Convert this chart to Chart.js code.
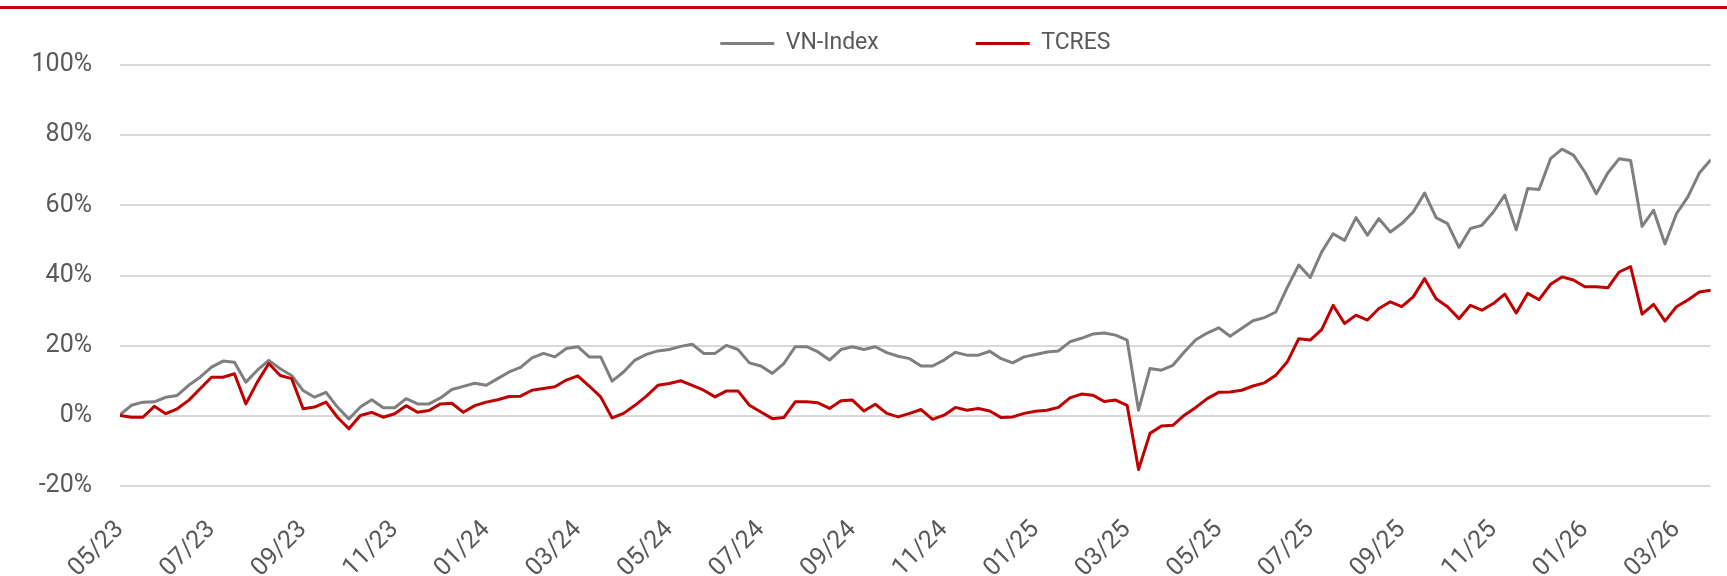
<!DOCTYPE html>
<html>
<head>
<meta charset="utf-8">
<title>VN-Index vs TCRES</title>
<script src="https://cdn.jsdelivr.net/npm/chart.js@4.4.1/dist/chart.umd.min.js"></script>
<style>
  html, body { margin: 0; padding: 0; background: #fff; }
  #wrap { position: relative; width: 1727px; height: 576px; overflow: hidden; }
  #chart { position: absolute; left: 0; top: 0; }
  #topRule { position: absolute; left: 0; top: 6px; width: 100%; height: 3px; background: #c00000; }
</style>
</head>
<body>
<div id="wrap">
  <canvas id="chart" width="1727" height="576"></canvas>
  <div id="topRule"></div>
</div>
<script>
// x-axis labels, one every two months starting 05/23
const tickLabels = ['05/23', '07/23', '09/23', '11/23', '01/24', '03/24', '05/24', '07/24', '09/24',
  '11/24', '01/25', '03/25', '05/25', '07/25', '09/25', '11/25', '01/26', '03/26'];

// one sample roughly every week (0.25 month), cumulative return in %
const sampleStep = 0.25;

const vnIndex = [
  0.3, 3.0, 3.9, 4.0, 5.3, 5.8, 8.7, 11.0, 13.9, 15.6,
  15.3, 9.6, 13.0, 15.8, 13.4, 11.5, 7.2, 5.3, 6.7, 2.5,
  -0.9, 2.5, 4.6, 2.3, 2.3, 4.9, 3.4, 3.4, 5.1, 7.5,
  8.4, 9.3, 8.7, 10.6, 12.5, 13.8, 16.5, 17.8, 16.8, 19.2,
  19.7, 16.8, 16.8, 9.9, 12.5, 15.9, 17.5, 18.5, 18.9, 19.8,
  20.4, 17.8, 17.8, 20.1, 18.9, 15.1, 14.2, 12.1, 14.9, 19.7,
  19.7, 18.2, 15.9, 18.9, 19.7, 18.9, 19.7, 18.0, 17.0, 16.3,
  14.2, 14.2, 15.9, 18.1, 17.3, 17.3, 18.4, 16.3, 15.1, 16.8,
  17.5, 18.2, 18.5, 21.1, 22.1, 23.3, 23.6, 23.0, 21.6, 1.6,
  13.5, 13.0, 14.4, 18.2, 21.7, 23.6, 25.1, 22.7, 24.9, 27.1,
  28.0, 29.6, 36.6, 43.0, 39.4, 46.7, 51.9, 50.0, 56.5, 51.5,
  56.2, 52.4, 54.8, 58.1, 63.5, 56.5, 54.8, 48.0, 53.4, 54.3,
  58.1, 62.9, 53.0, 64.8, 64.5, 73.3, 76.0, 74.3, 69.5, 63.3,
  69.2, 73.3, 72.8, 54.0, 58.6, 49.0, 57.6, 62.4, 69.2, 73.0
];

const tcres = [
  0.1, -0.4, -0.4, 2.7, 0.6, 2.0, 4.4, 7.7, 11.0, 11.0,
  12.0, 3.4, 9.6, 14.9, 11.5, 10.6, 2.0, 2.5, 3.9, -0.4,
  -3.7, 0.1, 1.0, -0.4, 0.6, 2.9, 1.0, 1.5, 3.4, 3.6,
  1.0, 2.9, 3.9, 4.6, 5.5, 5.6, 7.3, 7.8, 8.3, 10.2,
  11.4, 8.5, 5.4, -0.6, 0.7, 3.0, 5.6, 8.7, 9.2, 10.0,
  8.7, 7.3, 5.4, 7.1, 7.1, 3.0, 1.1, -0.8, -0.5, 4.0,
  4.0, 3.7, 2.1, 4.3, 4.5, 1.4, 3.3, 0.7, -0.3, 0.7,
  1.8, -1.0, 0.2, 2.4, 1.6, 2.1, 1.4, -0.5, -0.3, 0.7,
  1.3, 1.6, 2.4, 5.1, 6.2, 5.9, 4.1, 4.5, 3.0, -15.3,
  -5.0, -2.9, -2.7, 0.2, 2.4, 4.9, 6.7, 6.8, 7.3, 8.5,
  9.4, 11.6, 15.4, 22.0, 21.6, 24.6, 31.5, 26.3, 28.7, 27.3,
  30.6, 32.5, 31.1, 33.9, 39.1, 33.4, 31.1, 27.7, 31.5, 30.1,
  32.0, 34.7, 29.3, 34.9, 33.1, 37.5, 39.6, 38.7, 36.8, 36.8,
  36.5, 41.0, 42.5, 29.0, 31.8, 27.0, 31.1, 33.0, 35.3, 35.8
];

const textColor = '#595959';
const tickFont = { family: 'Roboto, "DejaVu Sans", sans-serif', size: 25 };
const legendFont = { family: 'Roboto, "DejaVu Sans", sans-serif', size: 23 };

const toPoints = values => values.map((v, i) => ({ x: i * sampleStep, y: v }));

const ctx = document.getElementById('chart').getContext('2d');

const perfChart = new Chart(ctx, {
  type: 'line',
  data: {
    datasets: [{
      label: 'VN-Index',
      data: toPoints(vnIndex),
      borderColor: '#7f7f7f',
      backgroundColor: '#7f7f7f',
      borderWidth: 3,
      order: 1
    }, {
      label: 'TCRES',
      data: toPoints(tcres),
      borderColor: '#c00000',
      backgroundColor: '#c00000',
      borderWidth: 3,
      order: 0
    }]
  },
  options: {
    responsive: false,
    animation: false,
    // negative top so the wide legend spacing does not push the plot down
    layout: { padding: { top: -70, left: 0, right: 0, bottom: 0 } },
    elements: {
      point: { radius: 0 },
      line: { tension: 0, borderJoinStyle: 'round' }
    },
    scales: {
      x: {
        type: 'linear',
        min: 0,
        max: (vnIndex.length - 1) * sampleStep,
        grid: { display: false, drawTicks: false },
        border: { display: false },
        afterBuildTicks: scale => {
          scale.ticks = tickLabels.map((_, i) => ({ value: i * 2 }));
        },
        afterFit: scale => { scale.height = 90; },
        ticks: {
          autoSkip: false,
          maxRotation: 45,
          minRotation: 45,
          padding: 29,
          color: textColor,
          font: tickFont,
          callback: value => tickLabels[Math.round(value / 2)]
        }
      },
      y: {
        min: -20,
        max: 100,
        grid: { color: '#d9d9d9', lineWidth: 2, drawTicks: false },
        border: { display: false },
        afterFit: scale => {
          scale.width = 120;
          scale.paddingTop = 65;
        },
        ticks: {
          stepSize: 20,
          padding: 28,
          color: textColor,
          font: tickFont,
          callback: value => value + '%'
        }
      }
    },
    plugins: {
      legend: {
        position: 'top',
        fullSize: false,
        labels: {
          usePointStyle: true,
          pointStyle: 'line',
          pointStyleWidth: 54,
          padding: 97,
          color: textColor,
          font: legendFont,
          sort: (a, b) => a.datasetIndex - b.datasetIndex
        }
      },
      tooltip: { enabled: false }
    }
  }
});
</script>
</body>
</html>
